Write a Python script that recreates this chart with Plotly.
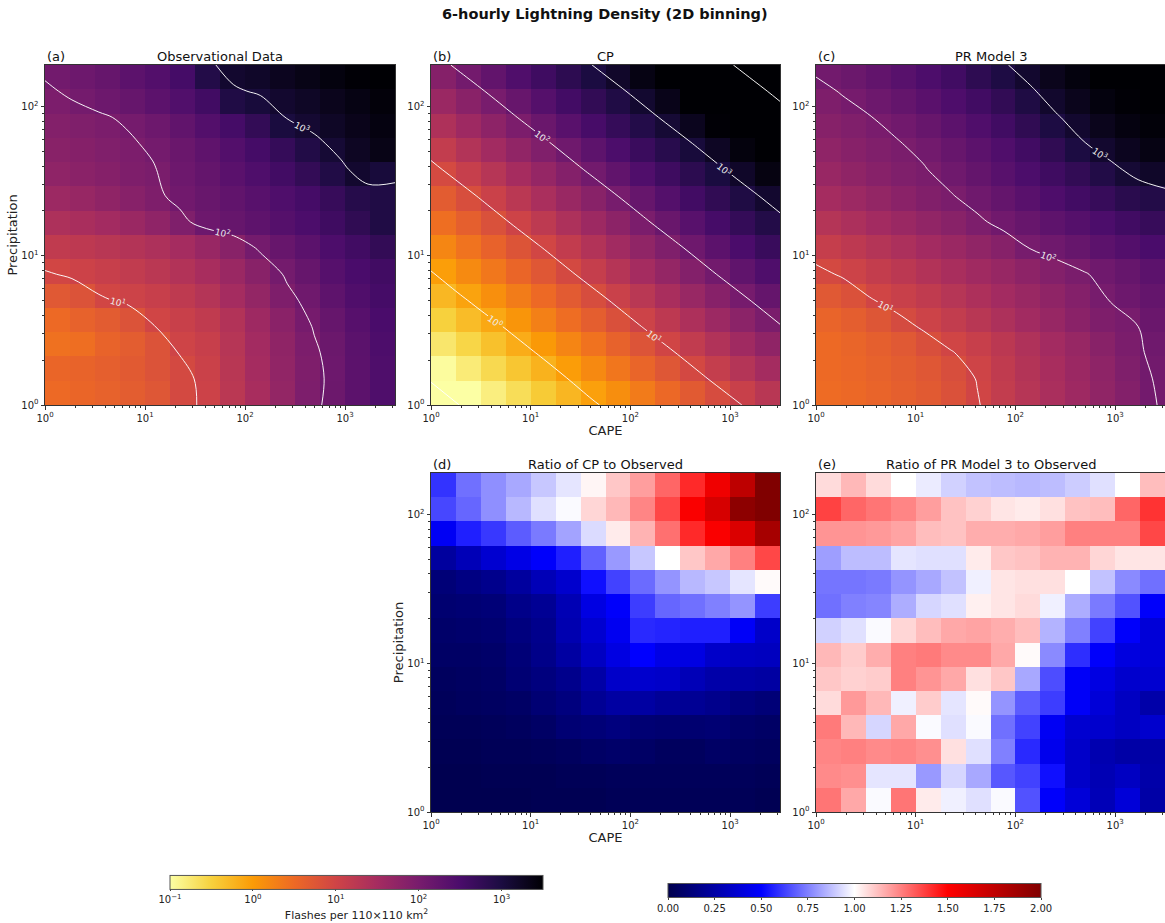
import numpy as np
import plotly.graph_objects as go
import plotly.colors as pc

W, H = 1165, 923

# ---------------- bins ----------------
cape_edges = np.logspace(0, 3.5, 15)
precip_edges = np.logspace(0, 2.28, 15)
cape_nodes = np.logspace(0, 3.5, 14)
precip_nodes = np.logspace(0, 2.28, 14)

# ---------------- data (log10 flashes per 110x110 km^2), rows: low -> high precipitation ----------------
obs_log10 = [
    [0.50, 0.55, 0.60, 0.66, 0.75, 0.93, 1.04, 1.25, 1.47, 1.70, 1.95, 2.13, 2.30, 2.45],
    [0.55, 0.58, 0.63, 0.70, 0.80, 0.93, 1.06, 1.27, 1.50, 1.72, 1.93, 2.12, 2.30, 2.45],
    [0.42, 0.45, 0.58, 0.66, 0.80, 1.01, 1.10, 1.30, 1.52, 1.74, 1.96, 2.14, 2.32, 2.47],
    [0.50, 0.60, 0.68, 0.80, 0.99, 1.08, 1.18, 1.35, 1.58, 1.80, 2.02, 2.20, 2.36, 2.50],
    [0.72, 0.80, 0.97, 1.03, 1.10, 1.20, 1.32, 1.50, 1.70, 1.93, 2.10, 2.28, 2.43, 2.55],
    [0.97, 1.04, 1.10, 1.17, 1.25, 1.35, 1.47, 1.62, 1.82, 2.04, 2.20, 2.37, 2.50, 2.60],
    [1.18, 1.22, 1.27, 1.33, 1.40, 1.50, 1.65, 1.82, 2.04, 2.18, 2.32, 2.47, 2.60, 2.75],
    [1.40, 1.45, 1.52, 1.62, 1.75, 1.92, 2.12, 2.20, 2.28, 2.38, 2.48, 2.62, 2.78, 2.95],
    [1.60, 1.66, 1.74, 1.83, 1.93, 2.08, 2.17, 2.25, 2.35, 2.45, 2.55, 2.70, 2.88, 2.95],
    [1.75, 1.80, 1.86, 1.93, 1.98, 2.12, 2.22, 2.33, 2.45, 2.58, 2.75, 2.94, 3.15, 3.05],
    [1.82, 1.86, 1.91, 1.96, 2.04, 2.15, 2.27, 2.40, 2.55, 2.72, 2.93, 3.10, 3.25, 3.35],
    [1.88, 1.92, 1.97, 2.03, 2.12, 2.25, 2.40, 2.55, 2.75, 3.02, 3.12, 3.22, 3.32, 3.40],
    [1.96, 2.04, 2.12, 2.20, 2.30, 2.42, 2.60, 2.95, 3.05, 3.15, 3.22, 3.30, 3.38, 3.45],
    [2.06, 2.12, 2.20, 2.30, 2.40, 2.55, 2.92, 3.15, 3.20, 3.28, 3.35, 3.42, 3.48, 3.50],
]

cp_log10 = [
    [-1.20, -1.01, -0.82, -0.63, -0.44, -0.25, -0.05, 0.13, 0.32, 0.51, 0.70, 0.89, 1.08, 1.27],
    [-0.97, -0.78, -0.59, -0.40, -0.21, -0.02, 0.18, 0.37, 0.56, 0.75, 0.94, 1.13, 1.32, 1.51],
    [-0.73, -0.55, -0.35, -0.16, 0.02, 0.22, 0.41, 0.60, 0.79, 0.98, 1.17, 1.36, 1.55, 1.74],
    [-0.50, -0.31, -0.12, 0.06, 0.27, 0.46, 0.65, 0.84, 1.03, 1.22, 1.41, 1.60, 1.79, 1.98],
    [-0.26, -0.07, 0.12, 0.31, 0.50, 0.69, 0.88, 1.07, 1.26, 1.45, 1.64, 1.83, 2.02, 2.21],
    [-0.03, 0.17, 0.36, 0.55, 0.74, 0.93, 1.12, 1.31, 1.50, 1.69, 1.88, 2.07, 2.26, 2.45],
    [0.21, 0.40, 0.59, 0.78, 0.97, 1.16, 1.35, 1.54, 1.73, 1.92, 2.11, 2.30, 2.49, 2.68],
    [0.45, 0.64, 0.83, 1.02, 1.21, 1.40, 1.59, 1.78, 1.97, 2.16, 2.35, 2.54, 2.73, 2.92],
    [0.68, 0.87, 1.06, 1.25, 1.44, 1.63, 1.82, 2.01, 2.20, 2.39, 2.58, 2.77, 2.96, 3.15],
    [0.92, 1.11, 1.30, 1.49, 1.68, 1.87, 2.06, 2.25, 2.44, 2.63, 2.82, 3.01, 3.20, 3.39],
    [1.15, 1.34, 1.53, 1.72, 1.91, 2.10, 2.29, 2.48, 2.67, 2.86, 3.05, 3.24, 3.43, 3.62],
    [1.39, 1.58, 1.77, 1.96, 2.15, 2.34, 2.53, 2.72, 2.91, 3.10, 3.29, 3.48, 3.67, 3.86],
    [1.62, 1.81, 2.00, 2.19, 2.38, 2.57, 2.76, 2.95, 3.14, 3.33, 3.52, 3.71, 3.90, 4.09],
    [1.86, 2.05, 2.24, 2.43, 2.62, 2.81, 3.00, 3.19, 3.38, 3.57, 3.76, 3.95, 4.14, 4.33],
]

pr3_log10 = [
    [0.48, 0.52, 0.57, 0.63, 0.70, 0.82, 0.98, 1.15, 1.30, 1.44, 1.58, 1.73, 1.88, 2.05],
    [0.50, 0.54, 0.60, 0.66, 0.74, 0.86, 1.01, 1.18, 1.33, 1.47, 1.61, 1.76, 1.92, 2.07],
    [0.50, 0.56, 0.63, 0.72, 0.85, 0.98, 1.10, 1.24, 1.38, 1.52, 1.66, 1.82, 1.97, 2.10],
    [0.57, 0.65, 0.76, 0.91, 1.03, 1.15, 1.27, 1.40, 1.53, 1.66, 1.80, 1.93, 2.00, 2.15],
    [0.72, 0.82, 0.98, 1.08, 1.18, 1.30, 1.41, 1.52, 1.63, 1.74, 1.87, 2.01, 2.12, 2.22],
    [0.93, 1.03, 1.14, 1.24, 1.35, 1.45, 1.55, 1.66, 1.77, 1.88, 1.98, 2.10, 2.20, 2.30],
    [1.12, 1.22, 1.32, 1.42, 1.52, 1.62, 1.73, 1.85, 2.01, 2.10, 2.20, 2.30, 2.40, 2.50],
    [1.32, 1.42, 1.52, 1.62, 1.72, 1.82, 1.95, 2.08, 2.18, 2.28, 2.38, 2.48, 2.60, 2.70],
    [1.50, 1.60, 1.70, 1.80, 1.90, 1.98, 2.10, 2.22, 2.34, 2.46, 2.58, 2.70, 2.84, 2.92],
    [1.65, 1.74, 1.83, 1.92, 1.98, 2.10, 2.22, 2.35, 2.48, 2.62, 2.76, 2.93, 3.10, 3.20],
    [1.75, 1.83, 1.91, 1.98, 2.07, 2.18, 2.30, 2.44, 2.60, 2.78, 2.99, 3.15, 3.28, 3.38],
    [1.84, 1.91, 1.99, 2.08, 2.18, 2.30, 2.44, 2.60, 2.78, 2.98, 3.15, 3.30, 3.40, 3.46],
    [1.93, 2.02, 2.12, 2.22, 2.33, 2.46, 2.60, 2.76, 2.96, 3.16, 3.30, 3.42, 3.48, 3.50],
    [2.06, 2.14, 2.24, 2.35, 2.47, 2.60, 2.80, 2.97, 3.15, 3.30, 3.42, 3.50, 3.55, 3.58],
]

ratio_cp = [
    [0.01, 0.01, 0.01, 0.01, 0.02, 0.02, 0.02, 0.03, 0.03, 0.03, 0.03, 0.03, 0.03, 0.02],
    [0.01, 0.01, 0.02, 0.02, 0.02, 0.03, 0.03, 0.04, 0.04, 0.04, 0.04, 0.04, 0.04, 0.03],
    [0.02, 0.02, 0.03, 0.03, 0.04, 0.05, 0.07, 0.08, 0.07, 0.05, 0.05, 0.07, 0.06, 0.05],
    [0.03, 0.03, 0.04, 0.05, 0.07, 0.11, 0.12, 0.14, 0.11, 0.10, 0.10, 0.11, 0.08, 0.07],
    [0.04, 0.05, 0.06, 0.07, 0.11, 0.14, 0.20, 0.24, 0.24, 0.21, 0.20, 0.18, 0.14, 0.12],
    [0.05, 0.06, 0.07, 0.11, 0.14, 0.18, 0.25, 0.35, 0.36, 0.35, 0.30, 0.26, 0.25, 0.24],
    [0.07, 0.07, 0.08, 0.12, 0.17, 0.24, 0.33, 0.42, 0.50, 0.43, 0.42, 0.35, 0.33, 0.32],
    [0.08, 0.09, 0.10, 0.14, 0.18, 0.28, 0.37, 0.46, 0.58, 0.57, 0.56, 0.56, 0.48, 0.35],
    [0.10, 0.11, 0.12, 0.17, 0.20, 0.29, 0.42, 0.49, 0.62, 0.70, 0.72, 0.75, 0.79, 0.62],
    [0.12, 0.15, 0.18, 0.23, 0.30, 0.36, 0.53, 0.63, 0.71, 0.79, 0.86, 0.89, 0.95, 1.01],
    [0.23, 0.30, 0.37, 0.43, 0.49, 0.56, 0.69, 0.80, 0.89, 1.00, 1.11, 1.17, 1.25, 1.36],
    [0.47, 0.56, 0.61, 0.68, 0.74, 0.82, 0.93, 1.04, 1.15, 1.28, 1.42, 1.52, 1.64, 1.85],
    [0.64, 0.70, 0.78, 0.86, 0.94, 0.99, 1.08, 1.14, 1.24, 1.36, 1.52, 1.66, 1.95, 2.00],
    [0.60, 0.72, 0.78, 0.83, 0.89, 0.95, 1.02, 1.11, 1.19, 1.30, 1.42, 1.56, 1.76, 2.00],
]

ratio_pr3 = [
    [1.27, 1.17, 0.99, 1.27, 1.04, 0.97, 0.94, 0.99, 0.66, 0.49, 0.39, 0.30, 0.39, 0.25],
    [1.23, 1.22, 0.95, 0.95, 0.80, 0.92, 0.83, 0.67, 0.63, 0.53, 0.35, 0.29, 0.33, 0.26],
    [1.24, 1.25, 1.23, 1.24, 1.22, 1.06, 0.94, 0.75, 0.58, 0.45, 0.35, 0.28, 0.25, 0.25],
    [1.26, 1.14, 0.92, 1.17, 0.99, 0.94, 0.99, 0.72, 0.63, 0.47, 0.37, 0.36, 0.33, 0.36],
    [1.07, 1.20, 1.14, 0.97, 1.10, 0.95, 1.01, 0.79, 0.68, 0.62, 0.48, 0.39, 0.33, 0.26],
    [1.11, 1.09, 1.10, 1.25, 1.21, 1.17, 1.06, 1.11, 0.83, 0.65, 0.48, 0.42, 0.36, 0.37],
    [1.14, 1.10, 1.16, 1.25, 1.26, 1.23, 1.23, 1.17, 1.01, 0.77, 0.59, 0.49, 0.41, 0.39],
    [0.91, 0.94, 0.99, 1.08, 1.13, 1.17, 1.18, 1.16, 1.13, 0.85, 0.75, 0.63, 0.49, 0.39],
    [0.72, 0.75, 0.76, 0.84, 0.92, 0.94, 1.03, 1.05, 1.07, 0.97, 0.84, 0.74, 0.66, 0.49],
    [0.73, 0.73, 0.74, 0.79, 0.83, 0.88, 0.97, 1.05, 1.06, 1.06, 1.00, 0.88, 0.77, 0.72],
    [0.81, 0.87, 0.87, 0.95, 0.94, 0.94, 1.04, 1.11, 1.12, 1.15, 1.15, 1.08, 1.05, 1.05],
    [1.21, 1.21, 1.20, 1.18, 1.13, 1.12, 1.16, 1.16, 1.17, 1.19, 1.25, 1.25, 1.25, 1.36],
    [1.37, 1.30, 1.27, 1.24, 1.19, 1.12, 1.09, 1.05, 1.04, 1.06, 1.12, 1.13, 1.30, 1.40],
    [1.07, 1.14, 1.07, 1.00, 0.96, 0.91, 0.88, 0.87, 0.86, 0.87, 0.90, 0.94, 1.00, 1.13],
]

panel_letters = ["(a)", "(b)", "(c)", "(d)", "(e)"]
panel_titles = ["Observational Data", "CP", "PR Model 3",
                "Ratio of CP to Observed", "Ratio of PR Model 3 to Observed"]
x_label = "CAPE"
y_label = "Precipitation"
main_title = "6-hourly Lightning Density (2D binning)"
cbar1_title = "Flashes per 110×110 km<sup>2</sup>"
contour_levels = [-1, 0, 1, 2, 3, 4]

# ---------------- styling ----------------
FONT = "DejaVu Sans"
inferno_r = list(reversed(pc.sequential.Inferno))
inferno_scale = [[i / (len(inferno_r) - 1), c] for i, c in enumerate(inferno_r)]
seismic_scale = [[0.0, "rgb(0,0,76)"], [0.25, "rgb(0,0,255)"], [0.5, "rgb(255,255,255)"],
                 [0.75, "rgb(255,0,0)"], [1.0, "rgb(128,0,0)"]]
white_scale = [[0, "rgba(255,255,255,0.95)"], [1, "rgba(255,255,255,0.95)"]]

# panel pixel boxes (left, top, right, bottom)
boxes = [(45, 65, 395, 405), (431, 65, 780, 405), (816, 65, 1165, 405),
         (431, 473, 780, 812), (816, 473, 1165, 812)]

fig = go.Figure()

count_panels = [obs_log10, cp_log10, pr3_log10]
for i, z in enumerate(count_panels):
    xa = "x" if i == 0 else f"x{i+1}"
    ya = "y" if i == 0 else f"y{i+1}"
    fig.add_trace(go.Heatmap(x=cape_edges, y=precip_edges, z=z, coloraxis="coloraxis",
                             xaxis=xa, yaxis=ya, hoverinfo="skip"))
    zarr = np.array(z)
    lo = [l for l in contour_levels if l < 0 and zarr.min() < l < zarr.max()]
    hi = [l for l in contour_levels if l >= 0 and zarr.min() < l < zarr.max()]
    for levels, lab in ((lo, False), (hi, True)):
        if not levels:
            continue
        fig.add_trace(go.Contour(
            x=cape_nodes, y=precip_nodes, z=z, xaxis=xa, yaxis=ya,
            autocontour=False, colorscale=white_scale,
            contours=dict(start=min(levels), end=max(levels), size=1, coloring="lines",
                          showlabels=lab, labelformat="$.0f",
                          labelfont=dict(size=9, color="#eeeeee", family=FONT)),
            line=dict(color="rgba(255,255,255,0.95)", width=1),
            showscale=False, hoverinfo="skip"))

for j, z in enumerate([ratio_cp, ratio_pr3]):
    k = j + 4
    fig.add_trace(go.Heatmap(x=cape_edges, y=precip_edges, z=z, coloraxis="coloraxis2",
                             xaxis=f"x{k}", yaxis=f"y{k}", hoverinfo="skip"))

xt_vals = [1, 10, 100, 1000]
xt_text = ["10<sup>0</sup>", "10<sup>1</sup>", "10<sup>2</sup>", "10<sup>3</sup>"]
yt_vals = [1, 10, 100]
yt_text = ["10<sup>0</sup>", "10<sup>1</sup>", "10<sup>2</sup>"]
x_minor = [m * 10 ** e for e in range(0, 4) for m in range(2, 10) if m * 10 ** e < 3162]
y_minor = [m * 10 ** e for e in range(0, 3) for m in range(2, 10) if m * 10 ** e < 190]

layout = dict(width=W, height=H, margin=dict(l=0, r=0, t=0, b=0, pad=0, autoexpand=False),
              paper_bgcolor="white", plot_bgcolor="white",
              font=dict(family=FONT, size=10, color="#222"), showlegend=False)

axis_common = dict(type="log", showgrid=False, zeroline=False, showline=True, mirror=True,
                   linecolor="#333", linewidth=1, ticks="outside", ticklen=3.5, tickwidth=1,
                   tickcolor="#333", tickfont=dict(size=10, family=FONT, color="#222"),
                   automargin=False)

for i, (l, t, r, b) in enumerate(boxes):
    n = "" if i == 0 else str(i + 1)
    xd = [l / W, r / W]
    yd = [1 - b / H, 1 - t / H]
    xa = dict(axis_common, domain=xd, range=[0, 3.5], tickmode="array", tickvals=xt_vals,
              ticktext=xt_text, anchor="y" + n,
              minor=dict(ticks="outside", ticklen=2, tickcolor="#333", tickmode="array",
                         tickvals=x_minor))
    ya = dict(axis_common, domain=yd, range=[0, 2.28], tickmode="array", tickvals=yt_vals,
              ticktext=yt_text, anchor="x" + n,
              minor=dict(ticks="outside", ticklen=2, tickcolor="#333", tickmode="array",
                         tickvals=y_minor))
    if i in (1, 3):
        xa["title"] = dict(text=x_label, font=dict(size=13, family=FONT, color="#222"), standoff=0)
    if i in (0, 3):
        ya["title"] = dict(text=y_label, font=dict(size=13, family=FONT, color="#222"), standoff=0)
    layout["xaxis" + n] = xa
    layout["yaxis" + n] = ya

cb_y = 1 - 899 / H
layout["coloraxis"] = dict(
    colorscale=inferno_scale, cmin=-1, cmax=3.5,
    colorbar=dict(orientation="h", x=356.5 / W, xanchor="center", y=cb_y, yanchor="middle",
                  len=373, lenmode="pixels", thickness=14, thicknessmode="pixels",
                  outlinewidth=1, outlinecolor="#555", xpad=0, ypad=0,
                  tickmode="array", tickvals=[-1, 0, 1, 2, 3],
                  ticktext=["10<sup>−1</sup>", "10<sup>0</sup>", "10<sup>1</sup>",
                            "10<sup>2</sup>", "10<sup>3</sup>"],
                  ticks="outside", ticklen=2, tickfont=dict(size=10, family=FONT, color="#222"),
                  title=dict(text=cbar1_title, side="bottom",
                             font=dict(size=11, family=FONT, color="#222"))))
layout["coloraxis2"] = dict(
    colorscale=seismic_scale, cmin=0, cmax=2,
    colorbar=dict(orientation="h", x=854.5 / W, xanchor="center", y=cb_y, yanchor="middle",
                  len=373, lenmode="pixels", thickness=14, thicknessmode="pixels",
                  outlinewidth=1, outlinecolor="#555", xpad=0, ypad=0,
                  tickmode="array", tickvals=[0, 0.25, 0.5, 0.75, 1.0, 1.25, 1.5, 1.75, 2.0],
                  ticktext=["0.00", "0.25", "0.50", "0.75", "1.00", "1.25", "1.50", "1.75", "2.00"],
                  ticks="outside", ticklen=2, tickfont=dict(size=10, family=FONT, color="#222")))

annotations = [dict(text=f"<b>{main_title}</b>", x=605 / W, y=1 - 14 / H, xref="paper", yref="paper",
                    xanchor="center", yanchor="middle", showarrow=False,
                    font=dict(size=14.5, family=FONT, color="#111"))]
for i, (l, t, r, b) in enumerate(boxes):
    annotations.append(dict(text=panel_letters[i], x=l / W, y=1 - (t + 1) / H, xref="paper",
                            yref="paper", xanchor="left", yanchor="bottom", showarrow=False,
                            font=dict(size=13, family=FONT, color="#111")))
    annotations.append(dict(text=panel_titles[i], x=(l + r) / 2 / W, y=1 - (t + 1) / H,
                            xref="paper", yref="paper", xanchor="center", yanchor="bottom",
                            showarrow=False, font=dict(size=13, family=FONT, color="#111")))
layout["annotations"] = annotations

fig.update_layout(**layout)

config = {"displayModeBar": False,
          "locale": "pow10",
          "locales": {"pow10": {"dictionary": {}, "format": {"currency": ["10<sup>", "</sup>"]}}}}
fig.write_html("out.html", config=config,
               post_script="document.body.style.margin='0px';document.body.style.overflow='hidden';")
